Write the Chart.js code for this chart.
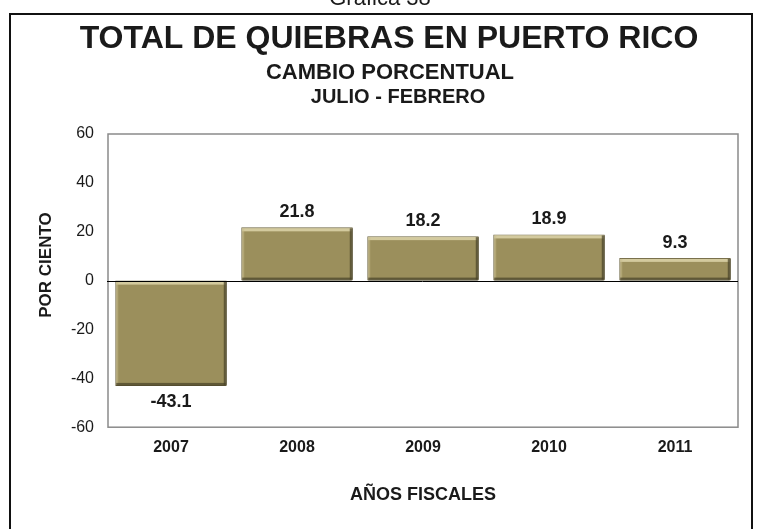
<!DOCTYPE html>
<html>
<head>
<meta charset="utf-8">
<script src="https://cdn.jsdelivr.net/npm/chart.js@4"></script>
<style>
html,body{margin:0;padding:0;background:#fff;}
#wrap{position:relative;width:761px;height:529px;}
</style>
</head>
<body>
<div id="wrap"><canvas id="c" width="761" height="529"></canvas></div>
<script>
const categories = ['2007', '2008', '2009', '2010', '2011'];
const values = [-43.1, 21.8, 18.2, 18.9, 9.3];
const yTicks = [-60, -40, -20, 0, 20, 40, 60];
const chartTitle = 'TOTAL DE QUIEBRAS EN PUERTO RICO';
const subTitle1 = 'CAMBIO PORCENTUAL';
const subTitle2 = 'JULIO - FEBRERO';
const pageLabel = 'Gráfica 38';
const yAxisTitle = 'POR CIENTO';
const xAxisTitle = 'AÑOS FISCALES';

const FONT = '"Liberation Sans", Arial, Helvetica, sans-serif';

const decorPlugin = {
  id: 'decor',
  beforeDraw(chart) {
    const ctx = chart.ctx;
    ctx.save();
    ctx.fillStyle = '#fff';
    ctx.fillRect(0, 0, chart.width, chart.height);
    // outer frame
    ctx.strokeStyle = '#111';
    ctx.lineWidth = 2;
    ctx.beginPath();
    ctx.moveTo(10, 540);
    ctx.lineTo(10, 14);
    ctx.lineTo(752, 14);
    ctx.lineTo(752, 540);
    ctx.stroke();
    // header texts
    ctx.fillStyle = '#1a1a1a';
    ctx.textAlign = 'center';
    ctx.textBaseline = 'alphabetic';
    ctx.font = '22px ' + FONT;
    ctx.fillText(pageLabel, 380, 5);
    ctx.font = 'bold 32px ' + FONT;
    ctx.fillText(chartTitle, 389, 48);
    ctx.font = 'bold 22px ' + FONT;
    ctx.fillText(subTitle1, 390, 79);
    ctx.font = 'bold 20px ' + FONT;
    ctx.fillText(subTitle2, 398, 103);
    // y axis title
    ctx.save();
    ctx.translate(46, 265);
    ctx.rotate(-Math.PI / 2);
    ctx.textBaseline = 'middle';
    ctx.font = 'bold 17px ' + FONT;
    ctx.fillText(yAxisTitle, 0, 0);
    ctx.restore();
    ctx.restore();
  },
  afterDatasetsDraw(chart) {
    const ctx = chart.ctx;
    const meta = chart.getDatasetMeta(0);
    const yScale = chart.scales.y;
    const zeroY = yScale.getPixelForValue(0);
    const ca = chart.chartArea;
    ctx.save();
    // plot frame
    ctx.strokeStyle = '#8a8a8a';
    ctx.lineWidth = 1.5;
    ctx.strokeRect(ca.left, ca.top, ca.right - ca.left, ca.bottom - ca.top);
    meta.data.forEach((bar, i) => {
      const p = bar.getProps(['x', 'y', 'base', 'width'], true);
      const l = p.x - p.width / 2, r = p.x + p.width / 2;
      const t = Math.min(p.y, p.base), b = Math.max(p.y, p.base);
      // highlight on top and left
      ctx.fillStyle = 'rgba(230,222,180,0.75)';
      ctx.fillRect(l + 1, t + 1, r - l - 2, 3);
      ctx.fillStyle = 'rgba(200,190,140,0.5)';
      ctx.fillRect(l + 1, t + 1, 2, b - t - 2);
      // shadow on bottom and right
      ctx.fillStyle = 'rgba(70,64,38,0.7)';
      ctx.fillRect(l + 1, b - 3, r - l - 2, 3);
      ctx.fillRect(r - 3, t + 1, 3, b - t - 2);
      // data labels
      const v = values[i];
      ctx.fillStyle = '#1a1a1a';
      ctx.font = 'bold 18px ' + FONT;
      ctx.textAlign = 'center';
      ctx.textBaseline = 'middle';
      const ly = v >= 0 ? t - 15 : b + 16;
      ctx.fillText(v.toFixed(1), p.x, ly);
    });
    // zero line
    ctx.strokeStyle = '#000';
    ctx.lineWidth = 1;
    ctx.beginPath();
    ctx.moveTo(ca.left - 1, Math.round(zeroY) + 0.5);
    ctx.lineTo(ca.right, Math.round(zeroY) + 0.5);
    ctx.stroke();
    ctx.restore();
  }
};

new Chart(document.getElementById('c'), {
  type: 'bar',
  data: {
    labels: categories,
    datasets: [{
      data: values,
      backgroundColor: '#9b8f5c',
      borderColor: '#6f6744',
      borderWidth: 1,
      borderSkipped: false,
      barPercentage: 0.885,
      categoryPercentage: 1.0
    }]
  },
  plugins: [decorPlugin],
  options: {
    responsive: false,
    animation: false,
    devicePixelRatio: 1,
    layout: { padding: { top: 134, right: 23, left: 35, bottom: 23 } },
    plugins: {
      legend: { display: false },
      tooltip: { enabled: false },
      title: { display: false }
    },
    scales: {
      x: {
        grid: { display: false, drawTicks: false },
        border: { display: false },
        ticks: {
          color: '#1a1a1a',
          font: { family: FONT, size: 16, weight: 'bold' },
          padding: 11
        },
        title: {
          display: true,
          text: xAxisTitle,
          color: '#1a1a1a',
          font: { family: FONT, size: 18, weight: 'bold' },
          padding: { top: 16, bottom: 0 }
        }
      },
      y: {
        min: -60,
        max: 60,
        afterBuildTicks(scale) {
          scale.ticks = yTicks.map(v => ({ value: v }));
        },
        afterFit(scale) { scale.width = 73; },
        grid: { display: false, drawTicks: false },
        border: { display: false },
        ticks: {
          color: '#1a1a1a',
          font: { family: FONT, size: 16 },
          padding: 14
        },
        title: { display: false }
      }
    }
  }
});
</script>
</body>
</html>
